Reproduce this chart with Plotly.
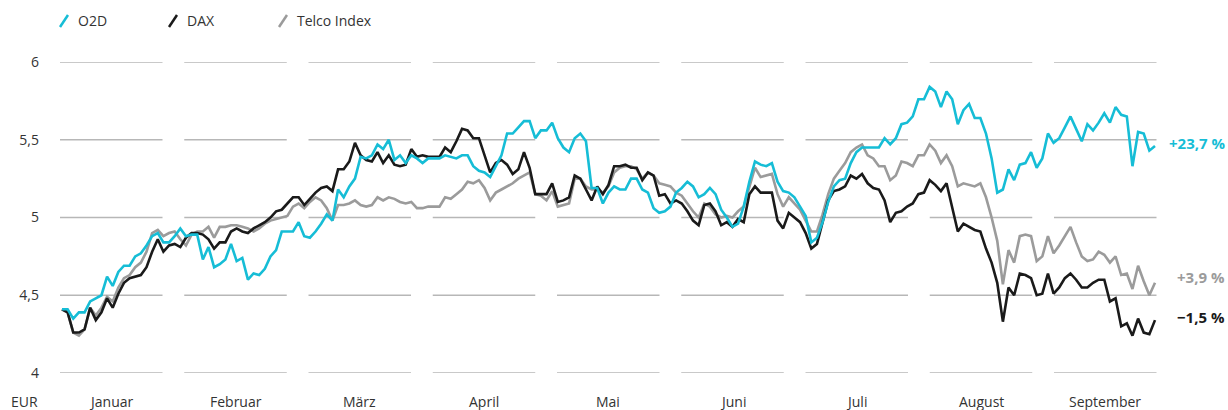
import plotly.graph_objects as go

# ---------------- data ----------------
months = ["Januar", "Februar", "März", "April", "Mai", "Juni", "Juli", "August", "September"]
y_ticks = [4, 4.5, 5, 5.5, 6]
y_tick_text = ["4", "4,5", "5", "5,5", "6"]
series_names = ["O2D", "DAX", "Telco Index"]
end_labels = ["+23,7 %", "−1,5 %", "+3,9 %"]

o2d = [4.41, 4.41, 4.35, 4.39, 4.39, 4.46, 4.48, 4.50, 4.62, 4.56,
       4.65, 4.69, 4.69, 4.75, 4.77, 4.82, 4.88, 4.90, 4.84, 4.84,
       4.88, 4.93, 4.88, 4.89, 4.89, 4.73, 4.81, 4.68, 4.70, 4.73,
       4.83, 4.72, 4.74, 4.60, 4.64, 4.63, 4.67, 4.75, 4.79, 4.91,
       4.91, 4.91, 4.97, 4.88, 4.87, 4.91, 4.96, 5.02, 4.98, 5.18,
       5.13, 5.20, 5.25, 5.39, 5.38, 5.40, 5.47, 5.44, 5.50, 5.37,
       5.40, 5.35, 5.40, 5.38, 5.35, 5.38, 5.38, 5.38, 5.40, 5.39,
       5.38, 5.40, 5.40, 5.33, 5.30, 5.29, 5.26, 5.33, 5.40, 5.54,
       5.54, 5.58, 5.62, 5.62, 5.51, 5.56, 5.56, 5.61, 5.51, 5.45,
       5.42, 5.51, 5.54, 5.49, 5.19, 5.19, 5.09, 5.16, 5.20, 5.18,
       5.18, 5.25, 5.25, 5.18, 5.16, 5.06, 5.03, 5.04, 5.07, 5.16,
       5.19, 5.23, 5.20, 5.13, 5.15, 5.19, 5.15, 5.05, 5.00, 4.94,
       4.96, 5.07, 5.23, 5.36, 5.34, 5.33, 5.35, 5.23, 5.17, 5.16,
       5.13, 5.07, 5.01, 4.84, 4.87, 4.97, 5.10, 5.20, 5.24, 5.25,
       5.35, 5.42, 5.45, 5.45, 5.45, 5.45, 5.51, 5.47, 5.51, 5.60,
       5.61, 5.65, 5.76, 5.76, 5.84, 5.81, 5.71, 5.81, 5.76, 5.60,
       5.69, 5.73, 5.64, 5.64, 5.54, 5.38, 5.16, 5.18, 5.31, 5.24,
       5.34, 5.35, 5.42, 5.32, 5.38, 5.54, 5.48, 5.51, 5.58, 5.65,
       5.57, 5.49, 5.60, 5.56, 5.61, 5.67, 5.61, 5.71, 5.66, 5.65,
       5.33, 5.55, 5.54, 5.43, 5.46]

dax = [4.41, 4.39, 4.26, 4.26, 4.28, 4.42, 4.34, 4.39, 4.48, 4.42,
       4.51, 4.58, 4.61, 4.62, 4.63, 4.68, 4.78, 4.86, 4.78, 4.82,
       4.83, 4.81, 4.87, 4.90, 4.90, 4.89, 4.86, 4.80, 4.84, 4.84,
       4.91, 4.93, 4.91, 4.90, 4.93, 4.95, 4.97, 5.00, 5.04, 5.05,
       5.09, 5.13, 5.13, 5.08, 5.12, 5.16, 5.19, 5.20, 5.17, 5.31,
       5.31, 5.36, 5.48, 5.40, 5.37, 5.36, 5.42, 5.35, 5.40, 5.34,
       5.33, 5.34, 5.44, 5.39, 5.40, 5.39, 5.39, 5.39, 5.45, 5.42,
       5.49, 5.57, 5.56, 5.51, 5.51, 5.40, 5.29, 5.35, 5.37, 5.34,
       5.28, 5.31, 5.42, 5.32, 5.15, 5.15, 5.15, 5.22, 5.10, 5.11,
       5.13, 5.27, 5.25, 5.18, 5.11, 5.20, 5.15, 5.21, 5.33, 5.33,
       5.34, 5.32, 5.32, 5.24, 5.29, 5.27, 5.14, 5.15, 5.09, 5.11,
       5.09, 5.04, 4.98, 4.95, 5.08, 5.09, 5.04, 4.95, 4.97, 4.94,
       4.99, 4.97, 5.15, 5.20, 5.16, 5.16, 5.16, 4.98, 4.93, 5.03,
       5.00, 4.97, 4.90, 4.80, 4.83, 4.97, 5.11, 5.17, 5.18, 5.20,
       5.27, 5.25, 5.28, 5.22, 5.19, 5.18, 5.11, 4.97, 5.03, 5.04,
       5.07, 5.09, 5.15, 5.16, 5.24, 5.21, 5.17, 5.22, 5.07, 4.91,
       4.96, 4.94, 4.92, 4.91, 4.80, 4.71, 4.58, 4.33, 4.55, 4.50,
       4.64, 4.63, 4.61, 4.50, 4.51, 4.64, 4.51, 4.55, 4.61, 4.64,
       4.60, 4.55, 4.55, 4.58, 4.60, 4.60, 4.46, 4.48, 4.30, 4.32,
       4.24, 4.35, 4.26, 4.25, 4.34]

telco = [4.41, 4.39, 4.26, 4.24, 4.28, 4.42, 4.37, 4.42, 4.49, 4.46,
         4.55, 4.61, 4.63, 4.68, 4.71, 4.78, 4.90, 4.92, 4.88, 4.90,
         4.91, 4.86, 4.82, 4.89, 4.91, 4.91, 4.94, 4.87, 4.94, 4.94,
         4.95, 4.95, 4.94, 4.93, 4.91, 4.93, 4.96, 4.98, 4.99, 5.00,
         5.01, 5.07, 5.09, 5.06, 5.10, 5.13, 5.11, 5.06, 4.98, 5.08,
         5.08, 5.09, 5.11, 5.08, 5.07, 5.08, 5.13, 5.11, 5.13, 5.12,
         5.10, 5.09, 5.10, 5.06, 5.06, 5.07, 5.07, 5.07, 5.13, 5.12,
         5.15, 5.18, 5.23, 5.22, 5.24, 5.19, 5.11, 5.16, 5.18, 5.20,
         5.22, 5.25, 5.27, 5.29, 5.15, 5.14, 5.11, 5.17, 5.07, 5.08,
         5.09, 5.25, 5.25, 5.20, 5.18, 5.18, 5.16, 5.20, 5.29, 5.32,
         5.33, 5.33, 5.31, 5.25, 5.29, 5.27, 5.22, 5.21, 5.20, 5.16,
         5.14, 5.09, 5.04, 5.00, 5.09, 5.07, 5.02, 5.00, 5.01, 5.00,
         5.04, 5.07, 5.19, 5.32, 5.26, 5.27, 5.28, 5.15, 5.07, 5.13,
         5.09, 5.05, 4.98, 4.91, 4.91, 5.02, 5.15, 5.25, 5.30, 5.35,
         5.42, 5.45, 5.47, 5.40, 5.38, 5.33, 5.33, 5.24, 5.27, 5.36,
         5.35, 5.33, 5.40, 5.40, 5.47, 5.43, 5.35, 5.40, 5.33, 5.20,
         5.22, 5.21, 5.20, 5.22, 5.13, 5.00, 4.85, 4.57, 4.79, 4.71,
         4.88, 4.89, 4.88, 4.72, 4.75, 4.88, 4.77, 4.82, 4.88, 4.94,
         4.84, 4.75, 4.72, 4.73, 4.78, 4.76, 4.71, 4.75, 4.63, 4.64,
         4.54, 4.69, 4.59, 4.50, 4.58]

series = [o2d, dax, telco]
colors = ["#16BDD6", "#1A1A1A", "#9B9B9B"]
label_colors = ["#16BDD6", "#1A1A1A", "#9B9B9B"]

# ---------------- layout helpers (pixel -> paper) ----------------
W, H = 1228, 410
PL, PR, PT, PB = 60, 1160, 62, 373          # plot area in pixels
def px(p):
    return (p - PL) / (PR - PL)
def py(p):
    return (PB - p) / (PB - PT)

N = len(o2d)
step = 1093 / (N - 1)                      # pixel distance between trading days
x0_range = -(62 - PL) / step
x1_range = x0_range + (PR - PL) / step
xs = list(range(N))

FONT = "Open Sans"
TXT = "#333333"

fig = go.Figure()
order = [2, 1, 0]                           # O2D drawn on top
for i in order:
    fig.add_trace(go.Scatter(x=xs, y=series[i], mode="lines", name=series_names[i],
                             line=dict(color=colors[i], width=2.6), showlegend=False,
                             hoverinfo="skip"))

shapes = []
annotations = []
band = 124.25
seg = 102.5
for i, m in enumerate(months):
    xa = PL + i * band
    for v in y_ticks:
        shapes.append(dict(type="line", xref="paper", yref="y",
                           x0=px(xa), x1=px(xa + seg), y0=v, y1=v,
                           line=dict(color="#B7B7B7", width=1.5), layer="below"))
    annotations.append(dict(text=m, xref="paper", yref="paper",
                            x=px(xa + seg / 2), y=py(401), showarrow=False,
                            xanchor="center", yanchor="middle",
                            font=dict(family=FONT, size=14, color=TXT)))

annotations.append(dict(text="EUR", xref="paper", yref="paper", x=px(40), y=py(401),
                        showarrow=False, xanchor="right", yanchor="middle",
                        font=dict(family=FONT, size=14, color=TXT)))

# manual legend with slanted line icons
leg_x = [60, 169, 279]
for name, col, lx in zip(series_names, colors, leg_x):
    shapes.append(dict(type="line", xref="paper", yref="paper",
                       x0=px(lx), y0=py(27), x1=px(lx + 8), y1=py(15),
                       line=dict(color=col, width=2.5)))
    annotations.append(dict(text=name, xref="paper", yref="paper",
                            x=px(lx + 16), y=py(21), showarrow=False,
                            xanchor="left", yanchor="middle",
                            font=dict(family=FONT, size=14, color=TXT)))

# end-value labels
shifts = [3, 3, 6]
for lab, vals, col, sh in zip(end_labels, series, label_colors, shifts):
    annotations.append(dict(text="<b>" + lab + "</b>", xref="paper", yref="y",
                            x=px(1227), y=vals[-1], yshift=sh, showarrow=False,
                            xanchor="right", yanchor="middle",
                            font=dict(family=FONT, size=15, color=col)))

fig.update_layout(
    width=W, height=H,
    margin=dict(l=PL, r=W - PR, t=PT, b=H - PB),
    paper_bgcolor="white", plot_bgcolor="white",
    shapes=shapes, annotations=annotations,
    xaxis=dict(range=[x0_range, x1_range], showgrid=False, zeroline=False,
               showline=False, showticklabels=False, ticks="", fixedrange=True),
    yaxis=dict(range=[4, 6], showgrid=False, zeroline=False, showline=False,
               tickvals=y_ticks, ticktext=y_tick_text, ticks="",
               ticklabelstandoff=20,
               tickfont=dict(family=FONT, size=14, color=TXT), fixedrange=True),
    showlegend=False,
)

fig.write_html("out.html", config={"displayModeBar": False},
               post_script="document.body.style.margin='0';document.body.style.padding='0';")
